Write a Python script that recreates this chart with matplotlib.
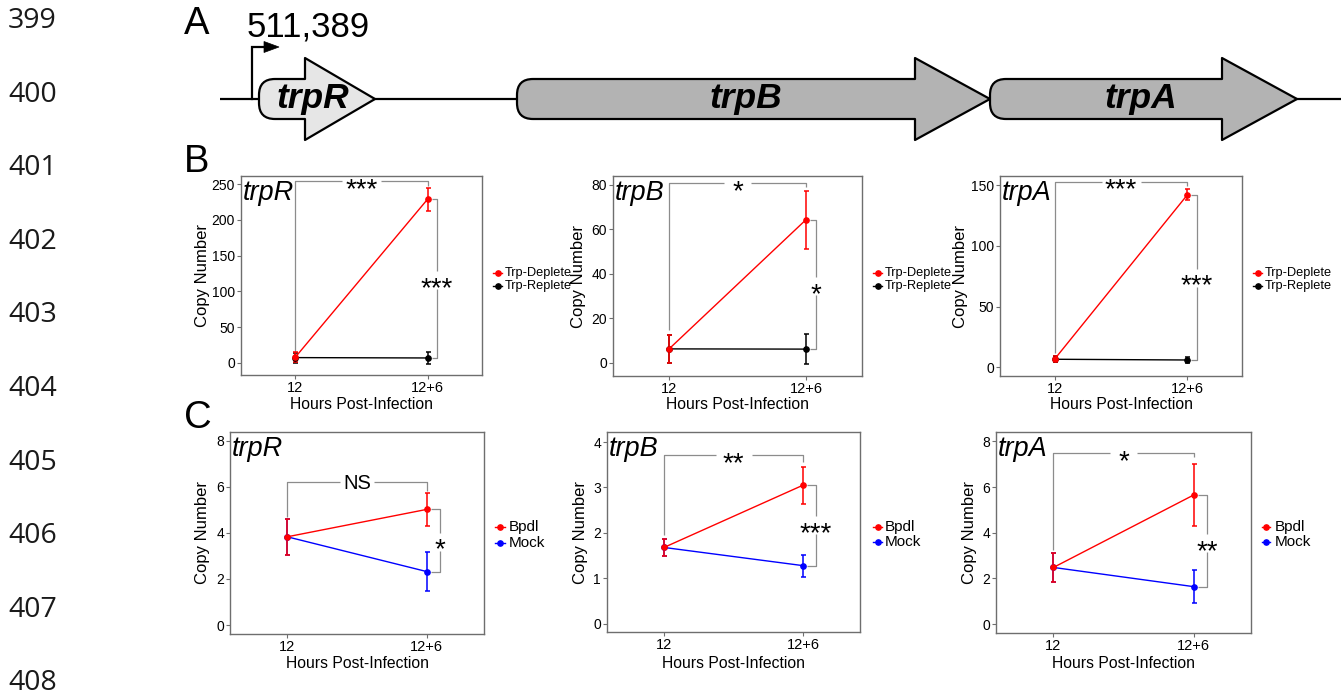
import numpy as np
import matplotlib
matplotlib.use("Agg")
import matplotlib.pyplot as plt
from matplotlib.path import Path
from matplotlib.patches import PathPatch, Polygon
from matplotlib.lines import Line2D
import matplotlib.transforms as mtransforms

# ---------------- data ----------------
timepoints = ["12", "12+6"]
x_pos = [1, 2]

# Panel B (Trp-Deplete vs Trp-Replete)
trpR_deplete = [8.0, 229.0]
trpR_deplete_err = [7.0, 16.0]
trpR_replete = [7.5, 7.0]
trpR_replete_err = [7.0, 8.0]

trpB_deplete = [6.2, 64.3]
trpB_deplete_err = [6.4, 13.1]
trpB_replete = [6.2, 6.1]
trpB_replete_err = [6.4, 6.6]

trpA_deplete = [6.6, 142.3]
trpA_deplete_err = [2.5, 4.6]
trpA_replete = [6.6, 6.0]
trpA_replete_err = [2.5, 2.4]

# Panel C (Bpdl vs Mock)
trpR_bpdl = [3.83, 5.02]
trpR_bpdl_err = [0.79, 0.70]
trpR_mock = [3.83, 2.32]
trpR_mock_err = [0.79, 0.83]

trpB_bpdl = [1.68, 3.05]
trpB_bpdl_err = [0.18, 0.41]
trpB_mock = [1.68, 1.28]
trpB_mock_err = [0.18, 0.24]

trpA_bpdl = [2.48, 5.65]
trpA_bpdl_err = [0.62, 1.34]
trpA_mock = [2.48, 1.64]
trpA_mock_err = [0.62, 0.72]

gene_names = ["trpR", "trpB", "trpA"]
sig_B_top = ["***", "*", "***"]
sig_B_side = ["***", "*", "***"]
sig_C_top = ["NS", "**", "*"]
sig_C_side = ["*", "***", "**"]
legend_B = ["Trp-Deplete", "Trp-Replete"]
legend_C = ["Bpdl", "Mock"]
line_numbers = [str(n) for n in range(399, 409)]
tss_label = "511,389"

# ---------------- figure ----------------
W, H = 1341, 696
plt.rcParams["font.family"] = ["Liberation Sans", "DejaVu Sans"]
fig = plt.figure(figsize=(W / 100, H / 100), dpi=100)
PX = 0.72  # points per pixel

def text_px(x, y, s, fs, ha="left", **kw):
    """place text so that its cap-height centre sits at pixel y"""
    base = y + 0.358 * fs / PX
    fig.text(x / W, 1 - base / H, s, fontsize=fs, ha=ha, va="baseline", **kw)

# ---- gene diagram (panel A) in pixel coordinates ----
ax0 = fig.add_axes([0, 0, 1, 1])
ax0.set_xlim(0, W)
ax0.set_ylim(H, 0)
ax0.axis("off")

yc = 99
ax0.plot([220, W], [yc, yc], color="black", lw=1.6, zorder=1, solid_capstyle="butt")

def gene_arrow(x0, xb, xt, fill, bh=40, hh=82, r=16):
    top, bot = yc - bh / 2, yc + bh / 2
    verts = [(x0 + r, top), (xb, top), (xb, yc - hh / 2), (xt, yc),
             (xb, yc + hh / 2), (xb, bot), (x0 + r, bot),
             (x0, bot), (x0, bot - r), (x0, top + r), (x0, top), (x0 + r, top),
             (x0 + r, top)]
    codes = [Path.MOVETO, Path.LINETO, Path.LINETO, Path.LINETO,
             Path.LINETO, Path.LINETO, Path.LINETO,
             Path.CURVE3, Path.CURVE3, Path.LINETO, Path.CURVE3, Path.CURVE3,
             Path.CLOSEPOLY]
    ax0.add_patch(PathPatch(Path(verts, codes), facecolor=fill, edgecolor="black",
                            lw=1.6, joinstyle="round", zorder=2))

gene_shapes = [(259, 305, 375, "#e6e6e6"), (517, 915, 990, "#b3b3b3"), (990, 1222, 1297, "#b3b3b3")]
gene_label_x = [313, 746, 1141]
for (x0, xb, xt, fill), name, lx in zip(gene_shapes, gene_names, gene_label_x):
    gene_arrow(x0, xb, xt, fill)
    ax0.text(lx, 108, name, fontsize=25.5, fontweight="bold", fontstyle="italic",
             ha="center", va="baseline", zorder=3)

# promoter arrow
ax0.plot([252, 252, 266], [yc, 47, 47], color="black", lw=1.6, zorder=1,
         solid_joinstyle="miter")
ax0.add_patch(Polygon([[264, 41.5], [279, 47], [264, 52.5]], closed=True,
                      facecolor="black", edgecolor="black", lw=0.5, zorder=2))
text_px(247, 24, tss_label, 25)

# panel letters
text_px(184, 20, "A", 27.5)
text_px(184, 158, "B", 27.5)
text_px(184, 414, "C", 27.5)

# line numbers
for i, s in enumerate(line_numbers):
    text_px(8, 17.8 + i * 73.6, s, 20.5, family="Open Sans", color="#1a1a1a")

# ---------------- line plots ----------------
XLIM = (0.59, 2.41)
FRAME = "#6e6e6e"
BRK = "#8c8c8c"
GAP_X = {"*": 27, "**": 36, "***": 39, "NS": 34}

def add_ax(rect):
    l, t, r, b = rect
    return fig.add_axes([l / W, 1 - b / H, (r - l) / W, (b - t) / H])

def sig_label(ax, x, y, s):
    if s == "NS":
        fs, k = 14.5, 0.36
    else:
        fs, k = 20, 0.575
    tr = mtransforms.offset_copy(ax.transData, fig=fig, x=0, y=-k * fs, units="points")
    ax.text(x, y, s, fontsize=fs, ha="center", va="baseline", transform=tr,
            clip_on=False, zorder=6)

def panel(rect, ylim, yticks, first, first_err, first_col, second, second_err, second_col,
          gene, top_lab, side_lab, top_y, leg_l, leg_r, side_x, side_lab_y,
          leg_labels, leg_h0, leg_h1, leg_tx, leg_rows, leg_fs, ylab_x, xlab_base):
    l, t, r, b = rect
    ax = add_ax(rect)
    ax.set_xlim(*XLIM)
    ax.set_ylim(*ylim)
    xppu = (r - l) / (XLIM[1] - XLIM[0])
    yppu = (b - t) / (ylim[1] - ylim[0])

    for sp in ax.spines.values():
        sp.set_color(FRAME)
        sp.set_linewidth(1.0)
    ax.set_xticks(x_pos)
    ax.set_xticklabels(timepoints)
    ax.set_yticks(yticks)
    ax.set_yticklabels([str(v) for v in yticks])
    ax.tick_params(axis="both", direction="out", length=2.9, width=0.8, color=FRAME,
                   labelsize=10, labelcolor="black")
    ax.tick_params(axis="x", pad=1.5, labelsize=10.5)
    ax.tick_params(axis="y", pad=1.5)

    # series: first (black/blue) beneath, second (red) on top
    for m, e, c in [(first, first_err, first_col), (second, second_err, second_col)]:
        ax.errorbar(x_pos, m, yerr=e, fmt="none", ecolor=c, elinewidth=1.1,
                    capsize=1.8, capthick=1.1, zorder=3)
        ax.plot(x_pos, m, "-o", color=c, lw=1.0, ms=3.8, zorder=4)

    # top bracket
    gx = GAP_X[top_lab] / xppu / 2
    kw = dict(color=BRK, lw=0.9, clip_on=False, zorder=2, solid_capstyle="butt")
    ax.plot([1, 1, 1.5 - gx], [leg_l, top_y, top_y], **kw)
    ax.plot([1.5 + gx, 2, 2], [top_y, top_y, leg_r], **kw)
    sig_label(ax, 1.5, top_y, top_lab)

    # side bracket
    gy = 9 / yppu
    ax.plot([2.03, side_x, side_x], [second[1], second[1], side_lab_y + gy], **kw)
    ax.plot([side_x, side_x, 2.03], [side_lab_y - gy, first[1], first[1]], **kw)
    sig_label(ax, side_x, side_lab_y, side_lab)

    # gene name
    tr = mtransforms.offset_copy(ax.transAxes, fig=fig, x=2 * PX, y=-24 * PX, units="points")
    ax.text(0, 1, gene, transform=tr, fontsize=19.5, fontstyle="italic",
            ha="left", va="baseline", zorder=7)

    # axis labels
    fig.text(ylab_x / W, 1 - (t + b) / 2 / H, "Copy Number", rotation=90,
             fontsize=12, ha="center", va="center")
    fig.text((l + r) / 2 / W, 1 - xlab_base / H, "Hours Post-Infection",
             fontsize=11.3, ha="center", va="baseline")

    # legend
    for lab, c, yrow in zip(leg_labels, [second_col, first_col], leg_rows):
        fy = 1 - yrow / H
        fig.add_artist(Line2D([leg_h0 / W, leg_h1 / W], [fy, fy], color=c, lw=1.0,
                              transform=fig.transFigure))
        fig.add_artist(Line2D([(leg_h0 + leg_h1) / 2 / W], [fy], color=c, marker="o",
                              ms=3.8, lw=0, transform=fig.transFigure))
        fig.text(leg_tx / W, fy, lab, fontsize=leg_fs, ha="left", va="center")
    return ax

# Panel B
panel((241, 176, 482, 375), (-16.8, 261.2), [0, 50, 100, 150, 200, 250],
      trpR_replete, trpR_replete_err, "black", trpR_deplete, trpR_deplete_err, "red",
      gene_names[0], sig_B_top[0], sig_B_side[0], 254, 16, 247, 2.07, 116,
      legend_B, 493, 502, 505, (273, 286), 9.2, 202.5, 409)
panel((613, 176, 862, 376), (-6.0, 84.0), [0, 20, 40, 60, 80],
      trpB_replete, trpB_replete_err, "black", trpB_deplete, trpB_deplete_err, "red",
      gene_names[1], sig_B_top[1], sig_B_side[1], 80.9, 14.7, 79.1, 2.074, 34.5,
      legend_B, 873, 882, 885, (273, 286), 9.2, 579, 409)
panel((1000, 176, 1242, 376), (-7.2, 157.7), [0, 50, 100, 150],
      trpA_replete, trpA_replete_err, "black", trpA_deplete, trpA_deplete_err, "red",
      gene_names[2], sig_B_top[2], sig_B_side[2], 153, 11.8, 149.7, 2.07, 74,
      legend_B, 1253, 1262, 1265, (273, 286), 9.2, 961, 409)

# Panel C
panel((230, 432, 484, 634), (-0.39, 8.38), [0, 2, 4, 6, 8],
      trpR_mock, trpR_mock_err, "blue", trpR_bpdl, trpR_bpdl_err, "red",
      gene_names[0], sig_C_top[0], sig_C_side[0], 6.22, 4.7, 5.83, 2.095, 3.62,
      legend_C, 495, 505, 509, (527, 543), 11, 202.5, 668)
panel((607, 432, 860, 632), (-0.18, 4.22), [0, 1, 2, 3, 4],
      trpB_mock, trpB_mock_err, "blue", trpB_bpdl, trpB_bpdl_err, "red",
      gene_names[1], sig_C_top[1], sig_C_side[1], 3.71, 1.95, 3.57, 2.09, 2.17,
      legend_C, 873, 882, 885, (527, 542), 11, 580.5, 668)
panel((996, 432, 1251, 633), (-0.39, 8.41), [0, 2, 4, 6, 8],
      trpA_mock, trpA_mock_err, "blue", trpA_bpdl, trpA_bpdl_err, "red",
      gene_names[2], sig_C_top[2], sig_C_side[2], 7.5, 3.26, 7.3, 2.097, 3.55,
      legend_C, 1262, 1270, 1275, (527, 542), 11, 969.5, 668)

fig.savefig("out.png", dpi=100, facecolor="white")
